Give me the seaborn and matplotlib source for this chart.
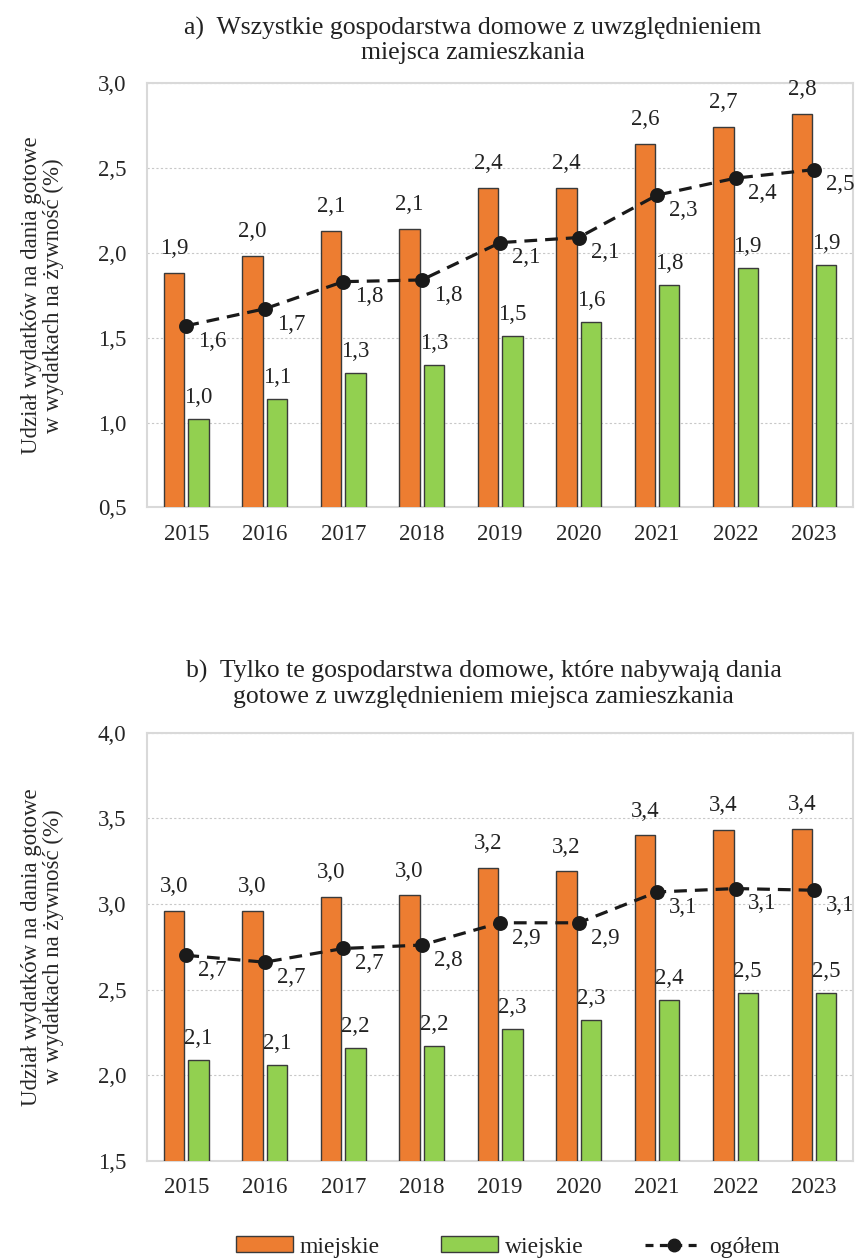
import pandas as pd
import seaborn as sns
import matplotlib.pyplot as plt
from matplotlib.patches import Patch
from matplotlib.lines import Line2D

years = [2015, 2016, 2017, 2018, 2019, 2020, 2021, 2022, 2023]

# a) all households
a_miejskie = [1.88, 1.98, 2.13, 2.14, 2.38, 2.38, 2.64, 2.74, 2.82]
a_wiejskie = [1.02, 1.14, 1.29, 1.34, 1.51, 1.59, 1.81, 1.91, 1.93]
a_ogolem = [1.57, 1.67, 1.83, 1.84, 2.06, 2.09, 2.34, 2.44, 2.49]

# b) only households buying ready meals
b_miejskie = [2.96, 2.96, 3.04, 3.05, 3.21, 3.19, 3.40, 3.43, 3.44]
b_wiejskie = [2.09, 2.06, 2.16, 2.17, 2.27, 2.32, 2.44, 2.48, 2.48]
b_ogolem = [2.70, 2.66, 2.74, 2.76, 2.89, 2.89, 3.07, 3.09, 3.08]

title_a = "a)  Wszystkie gospodarstwa domowe z uwzględnieniem\nmiejsca zamieszkania"
title_b = "b)  Tylko te gospodarstwa domowe, które nabywają dania\ngotowe z uwzględnieniem miejsca zamieszkania"
ylabel = "Udział wydatków na dania gotowe\nw wydatkach na żywność (%)"

ORANGE = "#ED7D31"
GREEN = "#92D050"
EDGE = "#3A3A3A"
FS = 16.5

sns.set_theme(style="white")
plt.rcParams["font.family"] = ["Liberation Serif", "DejaVu Serif"]
plt.rcParams["text.color"] = "#222222"


def fmt(v):
    return f"{v:.1f}".replace(".", ",")


def draw_panel(ax, miejskie, wiejskie, ogolem, ymin, ymax):
    df = pd.DataFrame({
        "rok": [str(y) for y in years] * 2,
        "wartosc": miejskie + wiejskie,
        "typ": ["miejskie"] * len(years) + ["wiejskie"] * len(years),
    })
    sns.barplot(data=df, x="rok", y="wartosc", hue="typ",
                palette={"miejskie": ORANGE, "wiejskie": GREEN}, saturation=1,
                width=0.62, gap=0.16, edgecolor=EDGE, linewidth=1.0,
                legend=False, ax=ax, zorder=3)
    for cont, vals, pad in zip(ax.containers, [miejskie, wiejskie], [10, 8]):
        ax.bar_label(cont, labels=[fmt(v) for v in vals], padding=pad,
                     fontsize=FS, color="#222222")

    line_df = pd.DataFrame({"rok": [str(y) for y in years], "wartosc": ogolem})
    sns.pointplot(data=line_df, x="rok", y="wartosc", color="#1a1a1a",
                  linestyle=(0, (4, 2.5)), linewidth=2.3, marker="o",
                  markersize=9, errorbar=None, ax=ax, zorder=5)
    for i, v in enumerate(ogolem):
        ax.annotate(fmt(v), (i, v), xytext=(19, -11), textcoords="offset points",
                    ha="center", va="center", fontsize=FS, color="#222222")

    ax.set_ylim(ymin, ymax)
    ticks = [ymin + 0.5 * k for k in range(int(round((ymax - ymin) / 0.5)) + 1)]
    ax.set_yticks(ticks)
    ax.set_yticklabels([fmt(t) for t in ticks], fontsize=FS)
    ax.set_xlim(-0.5, len(years) - 0.5)
    ax.tick_params(axis="x", length=0, pad=12, labelsize=FS)
    ax.tick_params(axis="y", length=0, pad=15, labelsize=FS)
    ax.yaxis.grid(True, linestyle=(0, (2, 2)), color="#C8C8C8", linewidth=0.8)
    ax.set_axisbelow(True)
    for s in ax.spines.values():
        s.set_color("#D9D9D9")
        s.set_linewidth(1.5)
    ax.set_xlabel("")
    ax.set_ylabel(ylabel, fontsize=16.5, labelpad=24, linespacing=1.05)


fig = plt.figure(figsize=(8.55, 12.59), dpi=100)
ax_a = fig.add_axes([0.172, 0.597, 0.826, 0.337])
ax_b = fig.add_axes([0.172, 0.078, 0.826, 0.340])

draw_panel(ax_a, a_miejskie, a_wiejskie, a_ogolem, 0.5, 3.0)
draw_panel(ax_b, b_miejskie, b_wiejskie, b_ogolem, 1.5, 4.0)

fig.text(0.553, 0.968, title_a, ha="center", va="center", fontsize=18.5,
         linespacing=1.15)
fig.text(0.566, 0.4567, title_b, ha="center", va="center", fontsize=18.5,
         linespacing=1.15)

handles = [
    Patch(facecolor=ORANGE, edgecolor=EDGE, linewidth=1.0),
    Patch(facecolor=GREEN, edgecolor=EDGE, linewidth=1.0),
    Line2D([0], [0], color="#1a1a1a", linestyle=(0, (2.5, 2)), linewidth=2.3,
           marker="o", markersize=9),
]
fig.legend(handles, ["miejskie", "wiejskie", "ogółem"], loc="center",
           bbox_to_anchor=(0.594, 0.0095), ncol=3, frameon=False,
           fontsize=17, handlelength=2.4, handleheight=0.65, handletextpad=0.3,
           columnspacing=2.6)

fig.savefig("out.png", dpi=100)
